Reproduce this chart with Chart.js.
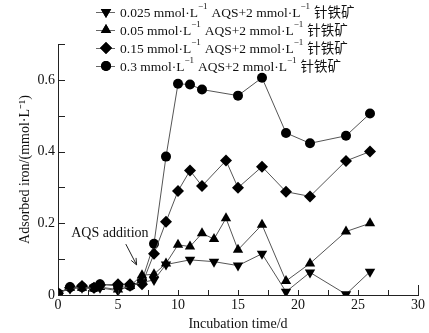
<!DOCTYPE html>
<html>
<head>
<meta charset="utf-8">
<script src="https://cdn.jsdelivr.net/npm/chart.js@4"></script>
<style>
  html, body { margin: 0; padding: 0; background: #fff; }
  #wrap { width: 429px; height: 333px; }
</style>
</head>
<body>
<div id="wrap"><canvas id="iron"></canvas></div>
<script>
// series: AQS concentration, adsorbed iron vs incubation time
const days_025 = [0, 1, 2, 3, 3.5, 5, 6, 7, 8, 9, 11, 13, 15, 17, 19, 21, 24, 26];
const iron_025 = [0.005, 0.018, 0.02, 0.02, 0.02, 0.012, 0.025, 0.035, 0.042, 0.085, 0.098, 0.093, 0.082, 0.115, 0.009, 0.063, 0.002, 0.065];
const days_05 = [0, 1, 2, 3, 3.5, 5, 6, 7, 8, 9, 10, 11, 12, 13, 14, 15, 17, 19, 21, 24, 26];
const iron_05 = [0.005, 0.02, 0.02, 0.018, 0.022, 0.015, 0.025, 0.055, 0.058, 0.088, 0.14, 0.135, 0.172, 0.156, 0.214, 0.126, 0.196, 0.039, 0.088, 0.177, 0.2];
const days_15 = [0, 1, 2, 3, 3.5, 5, 6, 7, 8, 9, 10, 11, 12, 14, 15, 17, 19, 21, 24, 26];
const iron_15 = [0.005, 0.02, 0.025, 0.02, 0.028, 0.03, 0.03, 0.03, 0.115, 0.204, 0.29, 0.347, 0.304, 0.375, 0.299, 0.358, 0.288, 0.275, 0.374, 0.4];
const days_3 = [0, 1, 2, 3, 3.5, 5, 6, 7, 8, 9, 10, 11, 12, 15, 17, 19, 21, 24, 26];
const iron_3 = [0.005, 0.022, 0.022, 0.02, 0.03, 0.025, 0.025, 0.04, 0.143, 0.386, 0.589, 0.587, 0.573, 0.556, 0.606, 0.452, 0.423, 0.444, 0.506];

const conc = ["0.025", "0.05", "0.15", "0.3"];
const shapes = ["triangle", "triangle", "rectRot", "circle"];
const rotations = [180, 0, 0, 0];
const radii = [6, 6, 6, 5];

const xTitle = "Incubation time/d";
const yTitle = "Adsorbed iron/(mmol\u00b7L\u207b\u00b9)";
const noteText = "AQS addition";
// annotation in data units: text anchor, arrow start, arrow tip
const noteAt = [1.1, 0.173];
const arrowFrom = [5.65, 0.142];
const arrowTo = [6.55, 0.084];

const SERIF = "'Liberation Serif', 'Times New Roman', serif";
const CJK = "'Liberation Serif', 'Noto Sans CJK SC', serif";

function pts(xs, ys) {
  return xs.map((x, i) => ({ x: x, y: ys[i] }));
}

const series = [pts(days_025, iron_025), pts(days_05, iron_05), pts(days_15, iron_15), pts(days_3, iron_3)];

// draw tick marks pointing inward, legend and annotation
const extras = {
  id: "extras",
  afterDraw(chart) {
    const ctx = chart.ctx;
    const area = chart.chartArea;
    const xs = chart.scales.x;
    const ys = chart.scales.y;
    ctx.save();
    ctx.strokeStyle = "#222";
    ctx.lineWidth = 1;
    ctx.beginPath();
    ys.ticks.forEach((t) => {
      const py = Math.round(ys.getPixelForValue(t.value)) + 0.5;
      ctx.moveTo(area.left, py);
      ctx.lineTo(area.left + 7, py);
    });
    xs.ticks.forEach((t) => {
      const px = Math.round(xs.getPixelForValue(t.value)) + 0.5;
      ctx.moveTo(px, area.bottom);
      ctx.lineTo(px, area.bottom - (t.value === 30 ? 10 : 5));
    });
    ctx.stroke();

    // annotation
    ctx.fillStyle = "#111";
    ctx.font = "14px " + SERIF;
    ctx.textBaseline = "middle";
    ctx.textAlign = "left";
    ctx.fillText(noteText, xs.getPixelForValue(noteAt[0]), ys.getPixelForValue(noteAt[1]));
    const ax0 = xs.getPixelForValue(arrowFrom[0]), ay0 = ys.getPixelForValue(arrowFrom[1]);
    const ax1 = xs.getPixelForValue(arrowTo[0]), ay1 = ys.getPixelForValue(arrowTo[1]);
    const ang = Math.atan2(ay1 - ay0, ax1 - ax0);
    ctx.beginPath();
    ctx.moveTo(ax0, ay0);
    ctx.lineTo(ax1, ay1);
    ctx.moveTo(ax1 - 7 * Math.cos(ang - 0.4), ay1 - 7 * Math.sin(ang - 0.4));
    ctx.lineTo(ax1, ay1);
    ctx.lineTo(ax1 - 7 * Math.cos(ang + 0.4), ay1 - 7 * Math.sin(ang + 0.4));
    ctx.stroke();

    // legend
    const rowY = [12, 30, 48, 66];
    chart.data.datasets.forEach((ds, i) => {
      const y = rowY[i];
      ctx.strokeStyle = "#666";
      ctx.beginPath();
      ctx.moveTo(96, y + 0.5);
      ctx.lineTo(115, y + 0.5);
      ctx.stroke();
      ctx.fillStyle = "#000";
      Chart.helpers.drawPoint(ctx, { pointStyle: ds.pointStyle, rotation: ds.rotation, radius: ds.pointRadius, borderWidth: 0 }, 106, y);
      ctx.fill();
      let x = 120;
      const parts = [
        [conc[i] + " mmol\u00b7L", false],
        ["\u22121", true],
        [" AQS+2 mmol\u00b7L", false],
        ["\u22121", true],
        [" \u9488\u94c1\u77ff", false]
      ];
      ctx.fillStyle = "#111";
      parts.forEach(([txt, sup]) => {
        ctx.font = (sup ? "9px " : "13.5px ") + CJK;
        ctx.fillText(txt, x, sup ? y - 5 : y + 1);
        x += ctx.measureText(txt).width + (sup ? 0.5 : 0);
      });
    });
    ctx.restore();
  }
};

new Chart(document.getElementById("iron"), {
  type: "line",
  data: {
    datasets: series.map((d, i) => ({
      label: conc[i] + " mmol\u00b7L\u207b\u00b9 AQS+2 mmol\u00b7L\u207b\u00b9 \u9488\u94c1\u77ff",
      data: d,
      borderColor: "#555",
      borderWidth: 1,
      backgroundColor: "#000",
      pointStyle: shapes[i],
      rotation: rotations[i],
      pointRadius: radii[i],
      pointBorderWidth: 0,
      pointBackgroundColor: "#000",
      tension: 0,
    })),
  },
  options: {
    responsive: true,
    maintainAspectRatio: false,
    animation: false,
    layout: { padding: { left: 0, right: 11, top: 44, bottom: 0 } },
    plugins: {
      legend: { display: false },
      tooltip: { enabled: false },
    },
    scales: {
      x: {
        type: "linear",
        min: 0,
        max: 30,
        afterFit: (s) => { s.height = 38; },
        ticks: {
          stepSize: 2.5,
          autoSkip: false,
          maxRotation: 0,
          padding: 2,
          color: "#111",
          font: { family: SERIF, size: 14 },
          callback: (v) => (v % 5 === 0 ? String(v) : ""),
        },
        grid: { drawOnChartArea: false, drawTicks: false },
        border: { color: "#222", width: 1 },
        title: { display: true, text: xTitle, color: "#111", font: { family: SERIF, size: 14 }, padding: 0 },
      },
      y: {
        type: "linear",
        min: 0,
        max: 0.7,
        afterFit: (s) => { s.width = 58; },
        ticks: {
          stepSize: 0.1,
          autoSkip: false,
          padding: 3,
          color: "#111",
          font: { family: SERIF, size: 14 },
          callback: (v) => {
            const k = Math.round(v * 10);
            return k % 2 === 0 ? String(k / 10) : "";
          },
        },
        grid: { drawOnChartArea: false, drawTicks: false },
        border: { color: "#222", width: 1 },
        title: { display: true, text: yTitle, color: "#111", font: { family: SERIF, size: 14 }, padding: { top: 17, bottom: 0 } },
      },
    },
  },
  plugins: [extras],
});
</script>
</body>
</html>
